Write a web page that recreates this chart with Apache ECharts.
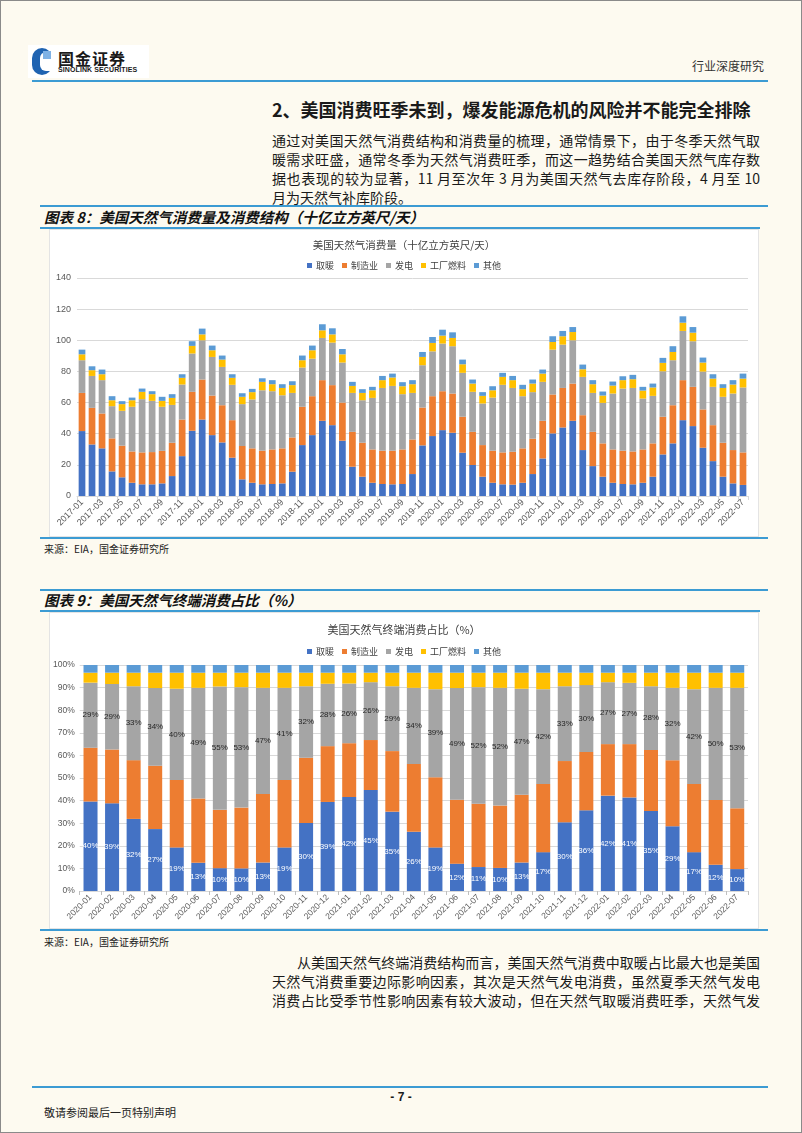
<!DOCTYPE html>
<html><head><meta charset="utf-8">
<script src="https://cdn.jsdelivr.net/npm/echarts@6/dist/echarts.min.js"></script>
<style>
html,body{margin:0;padding:0;}
body{width:802px;height:1133px;background:#FDFAF0;position:relative;overflow:hidden;font-family:"Noto Sans CJK SC",sans-serif;color:#1a1a1a;}
.abs{position:absolute;}
.frame{position:absolute;left:0;top:0;width:800px;height:1131px;border:1px solid #8a8a8a;}
.hl{position:absolute;height:2px;background:#3C9BD3;}
.para div{height:19px;line-height:19px;font-size:14px;text-align:justify;text-align-last:justify;white-space:nowrap;}
.ctitle{position:absolute;left:44px;font-size:14.5px;font-weight:bold;font-style:italic;color:#111;white-space:nowrap;}
.src{position:absolute;left:44px;font-size:10px;color:#222;white-space:nowrap;}
.chart{position:absolute;background:#fff;outline:1px solid #E4E4E4;}
</style></head>
<body>
<div class="frame"></div>
<!-- header -->
<div class="abs" style="left:28px;top:45px;width:121px;height:33px;background:#fff;"></div>
<div class="abs" style="left:32px;top:48px;width:20px;height:27px;border-radius:10px 10px 10px 10px;background:#1F63B1;"></div>
<div class="abs" style="left:40px;top:52px;width:13px;height:19px;background:#fff;border-radius:6px 0 0 6px;"></div>
<div class="abs" style="left:43px;top:51px;width:8px;height:8px;background:#7FB2E5;"></div>
<div class="abs" style="left:58px;top:46px;font-size:16px;font-weight:bold;color:#1a1a1a;letter-spacing:1px;">国金证券</div>
<div class="abs" style="left:58px;top:66px;font-size:7px;font-weight:bold;color:#1a1a1a;font-family:'Liberation Sans',sans-serif;letter-spacing:0.1px;">SINOLINK SECURITIES</div>
<div class="abs" style="left:692px;top:57px;font-size:12px;color:#333;">行业深度研究</div>
<div class="hl" style="left:32px;top:80px;width:736px;"></div>

<div class="abs" style="left:272px;top:96px;font-size:18px;font-weight:bold;white-space:nowrap;">2、美国消费旺季未到，爆发能源危机的风险并不能完全排除</div>
<div class="abs para" style="left:272px;top:131px;width:488px;">
<div>通过对美国天然气消费结构和消费量的梳理，通常情景下，由于冬季天然气取</div>
<div>暖需求旺盛，通常冬季为天然气消费旺季，而这一趋势结合美国天然气库存数</div>
<div>据也表现的较为显著，11 月至次年 3 月为美国天然气去库存阶段，4 月至 10</div>
<div style="text-align-last:left;">月为天然气补库阶段。</div>
</div>

<!-- chart 8 -->
<div class="hl" style="left:40px;top:205px;width:728px;"></div>
<div class="ctitle" style="top:206px;">图表 8：美国天然气消费量及消费结构（十亿立方英尺/天）</div>
<div class="hl" style="left:40px;top:227px;width:720px;"></div>
<div id="c1" class="chart" style="left:50px;top:230px;width:708px;height:306px;"></div>
<div class="hl" style="left:40px;top:537px;width:728px;"></div>
<div class="src" style="top:541px;">来源：EIA，国金证券研究所</div>

<!-- chart 9 -->
<div class="hl" style="left:40px;top:589px;width:728px;"></div>
<div class="ctitle" style="top:589px;">图表 9：美国天然气终端消费占比（%）</div>
<div class="hl" style="left:40px;top:610px;width:720px;"></div>
<div id="c2" class="chart" style="left:50px;top:613px;width:708px;height:315px;"></div>
<div class="hl" style="left:40px;top:929px;width:728px;"></div>
<div class="src" style="top:934px;">来源：EIA，国金证券研究所</div>

<div class="abs para" style="left:272px;top:953px;width:488px;">
<div style="padding-left:25px;">从美国天然气终端消费结构而言，美国天然气消费中取暖占比最大也是美国</div>
<div>天然气消费重要边际影响因素，其次是天然气发电消费，虽然夏季天然气发电</div>
<div>消费占比受季节性影响因素有较大波动，但在天然气取暖消费旺季，天然气发</div>
</div>

<div class="hl" style="left:32px;top:1086px;width:736px;"></div>
<div class="abs" style="left:381px;top:1090px;width:40px;text-align:center;font-size:12px;font-weight:bold;font-family:'Liberation Sans',sans-serif;">- 7 -</div>
<div class="abs" style="left:44px;top:1104px;font-size:11px;color:#222;">敬请参阅最后一页特别声明</div>

<script>
// ---------- Chart 8 data (十亿立方英尺/天) ----------
const months1 = ['2017-01','2017-02','2017-03','2017-04','2017-05','2017-06','2017-07','2017-08','2017-09','2017-10','2017-11','2017-12',
'2018-01','2018-02','2018-03','2018-04','2018-05','2018-06','2018-07','2018-08','2018-09','2018-10','2018-11','2018-12',
'2019-01','2019-02','2019-03','2019-04','2019-05','2019-06','2019-07','2019-08','2019-09','2019-10','2019-11','2019-12',
'2020-01','2020-02','2020-03','2020-04','2020-05','2020-06','2020-07','2020-08','2020-09','2020-10','2020-11','2020-12',
'2021-01','2021-02','2021-03','2021-04','2021-05','2021-06','2021-07','2021-08','2021-09','2021-10','2021-11','2021-12',
'2022-01','2022-02','2022-03','2022-04','2022-05','2022-06','2022-07'];
const heating1 = [41.7,33.1,30.6,15.8,12.0,8.5,7.5,7.5,8.1,12.8,25.6,41.9,
49.1,39.1,34.4,24.6,10.7,8.5,7.5,7.7,8.1,15.6,32.7,39.1,
48.3,45.5,35.5,18.8,12.4,8.5,7.7,7.5,7.7,14.1,32.5,38.5,
42.3,40.6,27.8,19.9,12.4,8.5,7.5,7.3,8.5,14.1,24.1,40.2,
44.0,48.3,29.5,19.2,12.4,8.5,7.7,7.5,8.5,12.4,26.7,33.8,
48.7,44.9,31.0,22.4,12.4,8.1,7.1];
const manuf1 = [24.5,23.5,22.4,21.2,20.3,20.1,20.5,20.7,20.9,21.4,23.5,25.0,
25.7,25.4,23.9,24.1,21.4,22.1,21.6,22.2,22.5,22.0,24.6,25.0,
26.1,25.7,24.5,22.4,21.8,21.4,21.4,21.6,22.2,22.2,24.3,25.6,
25.0,25.2,23.1,21.3,20.3,20.6,20.5,21.1,22.1,22.7,24.2,25.0,
25.4,23.9,22.4,22.0,21.4,21.4,21.4,21.1,21.4,21.4,24.2,24.5,
25.7,25.2,24.6,23.1,21.8,21.4,20.9];
const power1 = [21.0,20.5,21.4,20.7,22.4,28.7,34.2,32.9,28.3,24.3,22.5,24.6,
25.2,24.8,24.6,22.7,26.9,31.4,38.8,37.4,34.1,28.6,25.2,24.1,
27.1,27.3,25.7,25.0,27.3,33.1,40.3,41.6,35.5,29.9,27.2,28.8,
30.6,30.4,28.2,25.7,26.7,34.1,43.4,41.0,33.5,29.9,25.0,28.8,
27.8,27.8,24.6,25.0,26.0,35.9,39.9,40.8,32.7,30.5,29.2,28.9,
31.6,29.3,24.3,24.6,29.5,36.3,41.7];
const plant1 = [3.8,3.7,3.8,3.8,4.3,4.2,4.7,4.3,3.8,4.5,4.3,4.9,
3.8,4.3,4.7,4.5,4.7,4.7,5.4,4.5,4.7,5.0,4.7,5.4,
4.9,5.3,5.3,4.5,4.7,4.9,5.0,5.4,5.1,5.6,5.3,5.4,
5.1,5.3,5.5,5.3,4.9,4.7,5.1,5.0,4.5,5.5,5.3,4.9,
5.4,5.3,4.9,5.6,4.7,5.1,5.4,5.6,5.1,5.4,5.4,5.3,
5.3,5.5,5.8,5.3,5.7,5.8,5.7];
const other1 = [3.0,2.5,3.0,2.6,1.9,1.7,2.1,1.9,2.6,2.4,2.3,3.0,
3.7,3.0,2.6,2.3,2.3,2.1,2.3,2.6,2.4,2.5,3.0,3.0,
3.9,3.9,3.4,2.6,2.4,2.2,2.7,2.5,2.6,2.6,3.2,3.8,
3.8,3.6,3.0,2.6,2.4,2.6,2.6,2.7,2.8,2.6,2.6,3.7,
3.4,3.2,3.0,2.6,2.6,2.6,2.5,2.8,2.4,2.5,3.2,3.7,
4.1,3.6,3.2,2.8,2.4,2.8,3.2];
const yTicks1 = {min:0, max:140, interval:20};

// ---------- Chart 9 data (%) ----------
const months2 = ['2020-01','2020-02','2020-03','2020-04','2020-05','2020-06','2020-07','2020-08','2020-09','2020-10','2020-11','2020-12',
'2021-01','2021-02','2021-03','2021-04','2021-05','2021-06','2021-07','2021-08','2021-09','2021-10','2021-11','2021-12',
'2022-01','2022-02','2022-03','2022-04','2022-05','2022-06','2022-07'];
const heating2 = [39.6,38.8,31.9,27.4,19.3,12.5,10.1,10.0,12.6,19.3,30.1,39.4,
41.6,44.7,35.1,26.2,19.3,12.1,10.6,10.2,12.6,17.2,30.4,35.7,
42.2,41.4,35.4,28.6,17.2,11.6,9.7];
const manuf2 = [23.8,23.8,26.0,28.0,29.8,28.4,25.8,26.9,30.3,29.8,28.9,24.7,
23.8,22.1,26.8,30.0,31.0,28.3,28.0,27.6,30.0,30.2,27.1,25.8,
22.8,23.6,27.0,29.3,30.2,28.7,26.9];
const power2 = [28.8,29.0,32.7,34.4,40.4,49.0,54.6,53.3,47.0,40.8,31.6,27.6,
26.4,25.6,28.7,33.7,39.0,49.4,51.6,52.1,46.9,41.9,33.1,29.6,
27.4,27.1,28.2,32.0,41.9,49.6,53.3];
const plant2 = [4.4,5.0,6.0,6.8,7.1,6.7,6.1,6.4,6.7,6.7,6.0,4.9,
4.8,4.2,6.0,6.7,7.3,6.8,6.4,6.7,7.1,7.3,6.0,5.5,
4.2,4.5,6.0,6.7,7.3,6.7,6.7];
const other2 = [3.4,3.4,3.4,3.4,3.4,3.4,3.4,3.4,3.4,3.4,3.4,3.4,
3.4,3.4,3.4,3.4,3.4,3.4,3.4,3.4,3.4,3.4,3.4,3.4,
3.4,3.4,3.4,3.4,3.4,3.4,3.4];
const yTicks2 = {min:0, max:100, interval:10};

const seriesNames = ['取暖','制造业','发电','工厂燃料','其他'];
const colors = ['#4472C4','#ED7D31','#A5A5A5','#FFC000','#5B9BD5'];

const cjk = '"Noto Sans CJK SC", sans-serif';
const latin = '"Liberation Sans", "Noto Sans CJK SC", sans-serif';

function legendCfg(top){
  return {top:top,left:'center',icon:'rect',itemWidth:5,itemHeight:5,itemGap:8,
    textStyle:{fontSize:9,color:'#404040',fontFamily:cjk,padding:[0,0,0,-1]}};
}

// Chart 8
const c1 = echarts.init(document.getElementById('c1'), null, {renderer:'canvas'});
const data1 = [heating1, manuf1, power1, plant1, other1];
c1.setOption({
  animation:false,
  title:{text:'美国天然气消费量（十亿立方英尺/天）',left:'center',top:5,
    textStyle:{fontSize:10.5,fontWeight:'normal',color:'#404040',fontFamily:cjk}},
  legend:legendCfg(26),
  grid:{left:27,right:10,top:48,bottom:40},
  xAxis:{type:'category',data:months1,
    axisLine:{lineStyle:{color:'#D9D9D9'}},
    axisTick:{show:true,interval:1,length:4,lineStyle:{color:'#D9D9D9'}},
    axisLabel:{rotate:45,interval:1,fontSize:9,color:'#595959',margin:5,fontFamily:latin}},
  yAxis:{type:'value',min:yTicks1.min,max:yTicks1.max,interval:yTicks1.interval,
    axisLine:{show:false},axisTick:{show:false},
    axisLabel:{fontSize:9,color:'#595959',fontFamily:latin,margin:6},
    splitLine:{lineStyle:{color:'#D9D9D9'}}},
  series:seriesNames.map((n,i)=>({name:n,type:'bar',stack:'total',data:data1[i],
    barCategoryGap:'33%',itemStyle:{color:colors[i]}}))
});

// Chart 9
const c2 = echarts.init(document.getElementById('c2'), null, {renderer:'canvas'});
const data2 = [heating2, manuf2, power2, plant2, other2];
c2.setOption({
  animation:false,
  title:{text:'美国天然气终端消费占比（%）',left:'center',top:6,
    textStyle:{fontSize:11,fontWeight:'normal',color:'#404040',fontFamily:cjk}},
  legend:legendCfg(29),
  grid:{left:28,right:10,top:52,bottom:37},
  xAxis:{type:'category',data:months2,
    axisLine:{lineStyle:{color:'#D9D9D9'}},
    axisTick:{show:true,interval:0,length:4,lineStyle:{color:'#BFBFBF'}},
    axisLabel:{rotate:45,interval:0,fontSize:8.5,color:'#595959',margin:5,fontFamily:latin}},
  yAxis:{type:'value',min:yTicks2.min,max:yTicks2.max,interval:yTicks2.interval,
    axisLine:{show:false},axisTick:{show:false},
    axisLabel:{fontSize:8.5,color:'#595959',fontFamily:latin,margin:5,formatter:'{value}%'},
    splitLine:{lineStyle:{color:'#D9D9D9'}}},
  series:seriesNames.map((n,i)=>({name:n,type:'bar',stack:'total',data:data2[i],
    barCategoryGap:'35%',itemStyle:{color:colors[i]},
    label:{show:(i===0||i===2),position:'inside',fontSize:8,fontFamily:latin,
      color:i===0?'#ffffff':'#262626',
      formatter:p=>Math.round(p.value)+'%'}}))
});
</script>
</body></html>
